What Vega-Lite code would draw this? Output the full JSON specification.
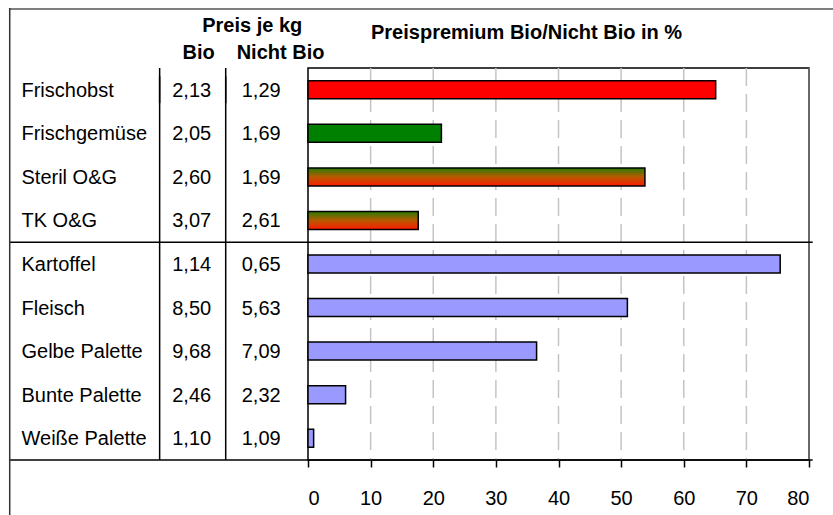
{
  "$schema": "https://vega.github.io/schema/vega-lite/v6.json",
  "autosize": "none",
  "padding": {"left": 308, "top": 68, "right": 24, "bottom": 55},
  "width": 501,
  "height": 392,
  "background": "white",
  "config": {
    "font": "Liberation Sans",
    "view": {"stroke": "#000", "strokeWidth": 1.5},
    "text": {"font": "Liberation Sans", "fontSize": 20, "color": "#000"}
  },
  "data": {
    "values": [
      {"Produkt": "Frischobst", "Bio": "2,13", "NichtBio": "1,29", "Premium": 65.1, "Gruppe": "Obst"},
      {"Produkt": "Frischgemüse", "Bio": "2,05", "NichtBio": "1,69", "Premium": 21.3, "Gruppe": "Gemüse"},
      {"Produkt": "Steril O&G", "Bio": "2,60", "NichtBio": "1,69", "Premium": 53.8, "Gruppe": "OG"},
      {"Produkt": "TK O&G", "Bio": "3,07", "NichtBio": "2,61", "Premium": 17.6, "Gruppe": "OG"},
      {"Produkt": "Kartoffel", "Bio": "1,14", "NichtBio": "0,65", "Premium": 75.4, "Gruppe": "Sonstige"},
      {"Produkt": "Fleisch", "Bio": "8,50", "NichtBio": "5,63", "Premium": 51.0, "Gruppe": "Sonstige"},
      {"Produkt": "Gelbe Palette", "Bio": "9,68", "NichtBio": "7,09", "Premium": 36.5, "Gruppe": "Sonstige"},
      {"Produkt": "Bunte Palette", "Bio": "2,46", "NichtBio": "2,32", "Premium": 6.0, "Gruppe": "Sonstige"},
      {"Produkt": "Weiße Palette", "Bio": "1,10", "NichtBio": "1,09", "Premium": 0.9, "Gruppe": "Sonstige"}
    ]
  },
  "layer": [
    {
      "data": {"values": [{"g": 10}, {"g": 20}, {"g": 30}, {"g": 40}, {"g": 50}, {"g": 60}, {"g": 70}]},
      "mark": {"type": "rule", "color": "#c4c4c4", "strokeWidth": 1.5, "strokeDash": [18, 8]},
      "encoding": {
        "x": {"field": "g", "type": "quantitative"}
      }
    },
    {
      "transform": [{"filter": "datum.Gruppe !== 'OG'"}],
      "mark": {"type": "bar", "size": 18, "stroke": "#000", "strokeWidth": 1.5},
      "encoding": {
        "y": {
          "field": "Produkt", "type": "nominal", "axis": null,
          "scale": {
            "type": "band",
            "domain": ["Frischobst", "Frischgemüse", "Steril O&G", "TK O&G", "Kartoffel", "Fleisch", "Gelbe Palette", "Bunte Palette", "Weiße Palette"],
            "paddingInner": 0, "paddingOuter": 0
          }
        },
        "x": {
          "field": "Premium", "type": "quantitative",
          "scale": {"domain": [0, 80], "nice": false},
          "axis": {
            "values": [0, 10, 20, 30, 40, 50, 60, 70, 80],
            "domain": false, "grid": false, "ticks": true, "tickColor": "#000", "tickSize": 7, "tickWidth": 1.5,
            "labelFontSize": 20, "labelColor": "#000", "labelFont": "Liberation Sans", "labelPadding": 21,
            "title": null
          }
        },
        "fill": {
          "field": "Gruppe", "type": "nominal", "legend": null,
          "scale": {"domain": ["Obst", "Gemüse", "Sonstige"], "range": ["#ff0000", "#008000", "#9999ff"]}
        }
      }
    },
    {
      "transform": [{"filter": "datum.Gruppe === 'OG'"}],
      "mark": {
        "type": "bar", "size": 18, "stroke": "#000", "strokeWidth": 1.5,
        "fill": {"gradient": "linear", "x1": 0, "y1": 0, "x2": 0, "y2": 1,
          "stops": [{"offset": 0, "color": "#267d00"}, {"offset": 0.5, "color": "#b85a00"}, {"offset": 1, "color": "#ff1a00"}]}
      },
      "encoding": {
        "y": {"field": "Produkt", "type": "nominal"},
        "x": {"field": "Premium", "type": "quantitative"}
      }
    },
    {
      "mark": {"type": "text", "align": "left", "baseline": "middle", "dy": 1},
      "encoding": {
        "y": {"field": "Produkt", "type": "nominal"},
        "x": {"datum": -45.75},
        "text": {"field": "Produkt"}
      }
    },
    {
      "mark": {"type": "text", "align": "center", "baseline": "middle", "dy": 1},
      "encoding": {
        "y": {"field": "Produkt", "type": "nominal"},
        "x": {"datum": -18.57},
        "text": {"field": "Bio"}
      }
    },
    {
      "mark": {"type": "text", "align": "center", "baseline": "middle", "dy": 1},
      "encoding": {
        "y": {"field": "Produkt", "type": "nominal"},
        "x": {"datum": -7.47},
        "text": {"field": "NichtBio"}
      }
    },
    {
      "data": {"values": [{"h": 1}]},
      "mark": {"type": "text", "fontWeight": "bold", "baseline": "middle", "dy": 1},
      "encoding": {
        "x": {"datum": -8.91},
        "y": {"datum": "Frischobst", "bandPosition": -0.987},
        "text": {"value": "Preis je kg"}
      }
    },
    {
      "data": {"values": [{"h": 1}]},
      "mark": {"type": "text", "fontWeight": "bold", "baseline": "middle", "dy": 1},
      "encoding": {
        "x": {"datum": -17.45},
        "y": {"datum": "Frischobst", "bandPosition": -0.356},
        "text": {"value": "Bio"}
      }
    },
    {
      "data": {"values": [{"h": 1}]},
      "mark": {"type": "text", "fontWeight": "bold", "align": "left", "baseline": "middle", "dy": 1},
      "encoding": {
        "x": {"datum": -11.39},
        "y": {"datum": "Frischobst", "bandPosition": -0.356},
        "text": {"value": "Nicht Bio"}
      }
    },
    {
      "data": {"values": [{"h": 1}]},
      "mark": {"type": "text", "fontWeight": "bold", "baseline": "middle", "dy": 1},
      "encoding": {
        "x": {"datum": 34.9},
        "y": {"datum": "Frischobst", "bandPosition": -0.8265},
        "text": {"value": "Preispremium Bio/Nicht Bio in %"}
      }
    },
    {
      "data": {"values": [{"x": -23.69}, {"x": -13.14}]},
      "mark": {"type": "rule", "color": "#000", "strokeWidth": 1.5},
      "encoding": {
        "x": {"field": "x", "type": "quantitative"}
      }
    },
    {
      "data": {"values": [{"x": -23.69}, {"x": -13.14}]},
      "mark": {"type": "tick", "orient": "vertical", "color": "#000", "size": 27, "thickness": 1.5, "opacity": 1},
      "encoding": {
        "x": {"field": "x", "type": "quantitative"},
        "y": {"datum": "Frischobst", "bandPosition": -0.3}
      }
    },
    {
      "data": {"values": [{"h": 1}]},
      "mark": {"type": "rule", "color": "#777", "strokeWidth": 1.5},
      "encoding": {
        "x": {"datum": 80}
      }
    },
    {
      "data": {"values": [{"h": 1}]},
      "mark": {"type": "rule", "color": "#000", "strokeWidth": 1.5},
      "encoding": {
        "x": {"datum": -47.63},
        "x2": {"datum": 80.59},
        "y": {"datum": "Kartoffel", "bandPosition": 0}
      }
    },
    {
      "data": {"values": [{"h": 1}]},
      "mark": {"type": "rule", "color": "#000", "strokeWidth": 1.5},
      "encoding": {
        "x": {"datum": -47.63},
        "x2": {"datum": 80.59},
        "y": {"datum": "Weiße Palette", "bandPosition": 1}
      }
    },
    {
      "data": {"values": [{"h": 1}]},
      "mark": {"type": "rule", "color": "#555", "strokeWidth": 1.5},
      "encoding": {
        "x": {"datum": -47.63},
        "x2": {"datum": 84.5},
        "y": {"datum": "Frischobst", "bandPosition": -1.3546}
      }
    },
    {
      "data": {"values": [{"h": 1}]},
      "mark": {"type": "tick", "orient": "vertical", "color": "#333", "size": 512, "thickness": 1.5, "opacity": 1},
      "encoding": {
        "x": {"datum": -47.63},
        "y": {"datum": "Kartoffel"}
      }
    }
  ]
}
